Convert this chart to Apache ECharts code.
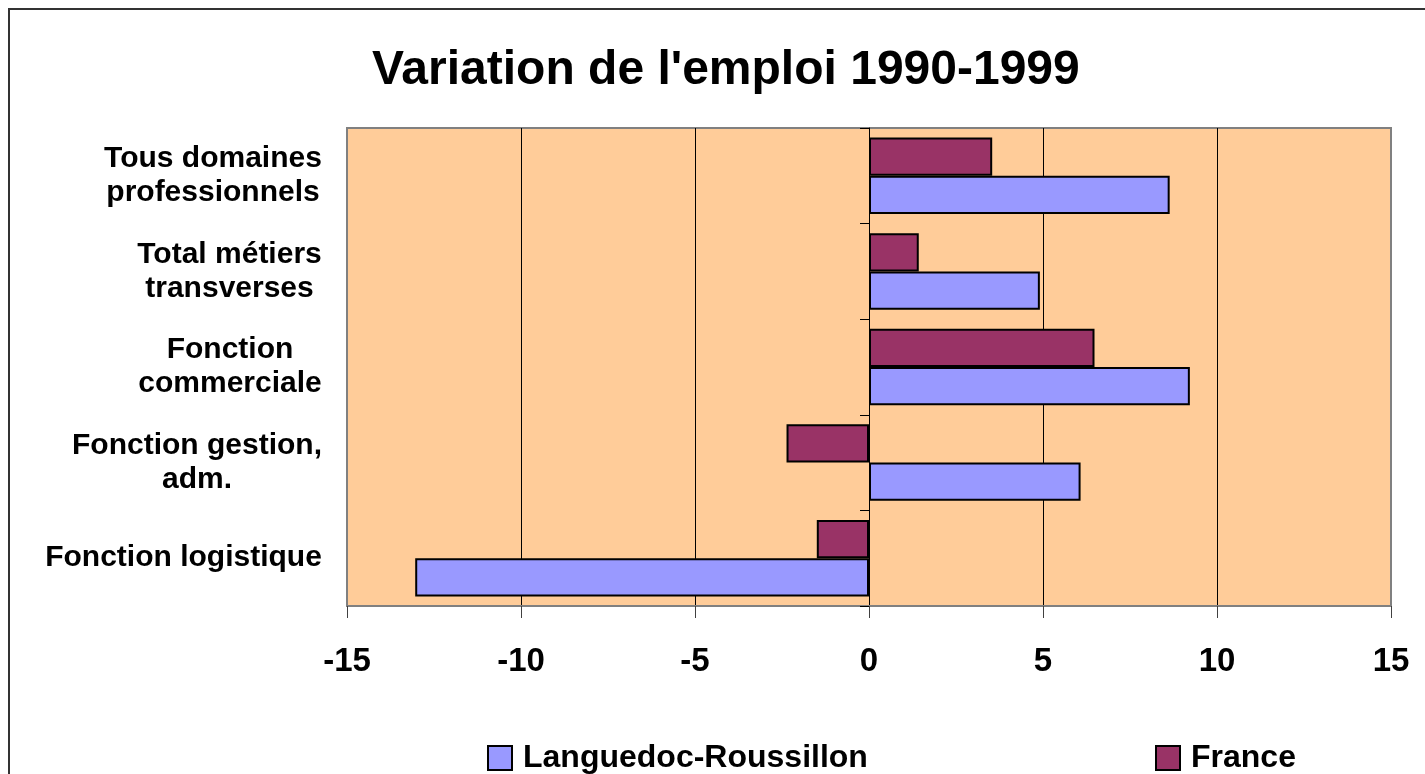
<!DOCTYPE html>
<html>
<head>
<meta charset="utf-8">
<script src="https://cdn.jsdelivr.net/npm/echarts@6/dist/echarts.min.js"></script>
<style>
  html, body { margin: 0; padding: 0; background: #fff; }
  #chart { width: 1425px; height: 774px; }
</style>
</head>
<body>
<div id="chart"></div>
<script>
// data (top to bottom)
const categories = [
  'Tous domaines\nprofessionnels',
  'Total métiers\ntransverses',
  'Fonction\ncommerciale',
  'Fonction gestion,\nadm.',
  'Fonction logistique'
];
const franceValues = [3.54, 1.43, 6.48, -2.37, -1.5];
const lrValues = [8.64, 4.91, 9.22, 6.08, -13.04];
const xTicks = [-15, -10, -5, 0, 5, 10, 15];

const FONT = '"Liberation Sans", Arial, sans-serif';
const labelSize = 30;

// measure each label so the lines are centred inside a right-aligned block
const ctx = document.createElement('canvas').getContext('2d');
ctx.font = 'bold ' + labelSize + 'px ' + FONT;
let rich = {};
categories.forEach(function (c, i) {
  let w = 0;
  c.split('\n').forEach(function (l) { w = Math.max(w, ctx.measureText(l).width); });
  rich['c' + i] = { width: Math.ceil(w) + 2, align: 'center', fontSize: labelSize,
    fontWeight: 'bold', fontFamily: FONT, color: '#000', lineHeight: 34 };
});

let myChart = echarts.init(document.getElementById('chart'), null, { renderer: 'canvas' });

let legendText = { fontSize: 32, fontWeight: 'bold', fontFamily: FONT, color: '#000', padding: [0, 0, 0, 6] };

let option = {
  backgroundColor: '#fff',
  animation: false,
  title: {
    text: "Variation de l'emploi 1990-1999",
    left: 372,
    top: 47,
    padding: 0,
    textStyle: { fontSize: 48, fontWeight: 'bold', fontFamily: FONT, color: '#000' }
  },
  graphic: [{
    type: 'rect',
    shape: { x: 9, y: 9, width: 1500, height: 900 },
    style: { fill: null, stroke: '#333', lineWidth: 2 },
    silent: true
  }],
  legend: [{
    data: ['Languedoc-Roussillon'],
    left: 487, top: 742, padding: 0,
    icon: 'rect',
    itemWidth: 24, itemHeight: 24,
    textStyle: legendText
  }, {
    data: ['France'],
    left: 1155, top: 742, padding: 0,
    icon: 'rect',
    itemWidth: 24, itemHeight: 24,
    textStyle: legendText
  }],
  grid: {
    left: 347, right: 34, top: 128, bottom: 168,
    show: true,
    backgroundColor: '#FFCC99',
    borderColor: '#808080',
    borderWidth: 2
  },
  xAxis: {
    type: 'value',
    min: xTicks[0],
    max: xTicks[xTicks.length - 1],
    interval: 5,
    axisLine: { show: true, onZero: false, lineStyle: { color: '#808080', width: 2 } },
    axisTick: { show: true, length: 12, lineStyle: { color: '#404040' } },
    axisLabel: { margin: 39, fontSize: 33, fontWeight: 'bold', fontFamily: FONT, color: '#000' },
    splitLine: { show: true, lineStyle: { color: ['#808080', '#000', '#000', '#000', '#000', '#000', '#808080'], width: 1 } }
  },
  yAxis: [{
    type: 'category',
    data: categories,
    inverse: true,
    axisLine: { show: false, onZero: false },
    axisTick: { show: false },
    axisLabel: {
      margin: 24,
      align: 'right',
      formatter: function (value, idx) {
        return value.split('\n').map(function (l) { return '{c' + idx + '|' + l + '}'; }).join('\n');
      },
      rich: rich
    }
  }, {
    // the axis line with its ticks sits on zero
    type: 'category',
    data: categories,
    inverse: true,
    position: 'left',
    axisLine: { show: true, onZero: true, lineStyle: { color: '#000', width: 1 } },
    axisTick: { show: true, length: 9, lineStyle: { color: '#000' } },
    axisLabel: { show: false },
    splitLine: { show: false }
  }],
  series: [{
    name: 'France',
    type: 'bar',
    data: franceValues,
    barGap: '0%',
    barCategoryGap: '20%',
    itemStyle: { color: '#993366', borderColor: '#000', borderWidth: 2 }
  }, {
    name: 'Languedoc-Roussillon',
    type: 'bar',
    data: lrValues,
    barGap: '0%',
    barCategoryGap: '20%',
    itemStyle: { color: '#9999FF', borderColor: '#000', borderWidth: 2 }
  }]
};

if (option && typeof option === 'object') {
  myChart.setOption(option, true);
}
</script>
</body>
</html>
